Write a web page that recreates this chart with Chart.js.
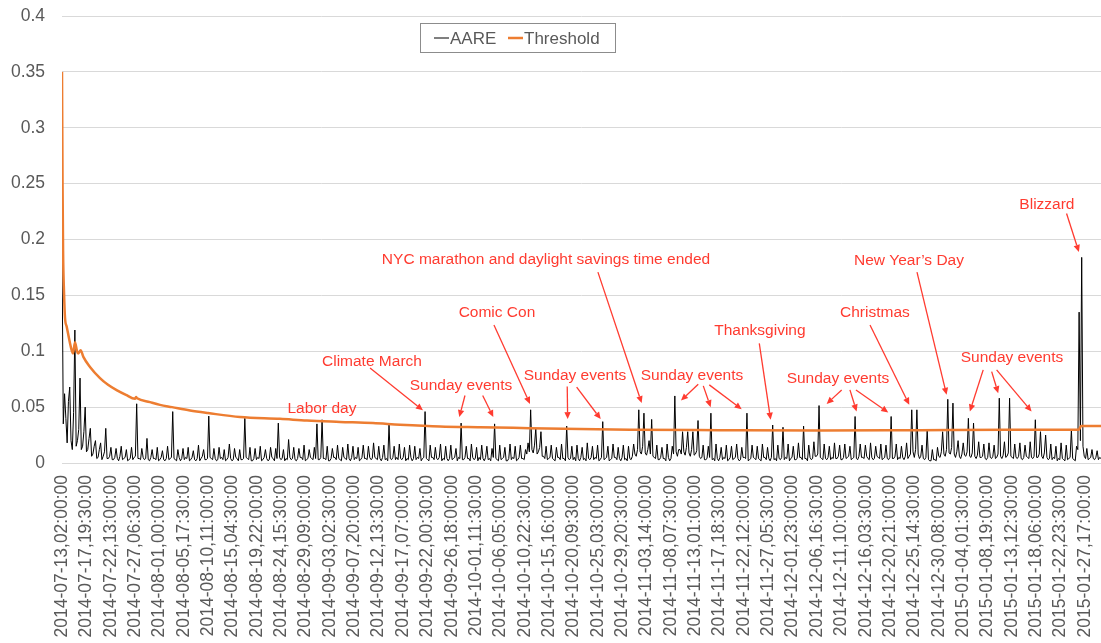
<!DOCTYPE html>
<html>
<head>
<meta charset="utf-8">
<script src="https://cdn.jsdelivr.net/npm/chart.js@4.4.1/dist/chart.umd.min.js"></script>
<style>
  html, body { margin: 0; padding: 0; background: #fff; }
  #wrap { width: 1101px; height: 643px; }
</style>
</head>
<body>
<div id="wrap"><canvas id="aareChart" width="1101" height="643"></canvas></div>
<script>
// x unit = one 30 min interval since 2014-07-13 02:00
const STEP = 12;          // one AARE sample per 6 h
const TICK_EVERY = 227;   // label every 227 intervals
const X_MAX = 9684;

const tickLabels = [
  '2014-07-13,02:00:00', '2014-07-17,19:30:00', '2014-07-22,13:00:00', '2014-07-27,06:30:00',
  '2014-08-01,00:00:00', '2014-08-05,17:30:00', '2014-08-10,11:00:00', '2014-08-15,04:30:00',
  '2014-08-19,22:00:00', '2014-08-24,15:30:00', '2014-08-29,09:00:00', '2014-09-03,02:30:00',
  '2014-09-07,20:00:00', '2014-09-12,13:30:00', '2014-09-17,07:00:00', '2014-09-22,00:30:00',
  '2014-09-26,18:00:00', '2014-10-01,11:30:00', '2014-10-06,05:00:00', '2014-10-10,22:30:00',
  '2014-10-15,16:00:00', '2014-10-20,09:30:00', '2014-10-25,03:00:00', '2014-10-29,20:30:00',
  '2014-11-03,14:00:00', '2014-11-08,07:30:00', '2014-11-13,01:00:00', '2014-11-17,18:30:00',
  '2014-11-22,12:00:00', '2014-11-27,05:30:00', '2014-12-01,23:00:00', '2014-12-06,16:30:00',
  '2014-12-11,10:00:00', '2014-12-16,03:30:00', '2014-12-20,21:00:00', '2014-12-25,14:30:00',
  '2014-12-30,08:00:00', '2015-01-04,01:30:00', '2015-01-08,19:00:00', '2015-01-13,12:30:00',
  '2015-01-18,06:00:00', '2015-01-22,23:30:00', '2015-01-27,17:00:00'
];

// 5 days per row
const aareValues = [
  0.19, 0.035, 0.062, 0.04, 0.018, 0.055, 0.068, 0.02, 0.012, 0.045, 0.119, 0.015, 0.02, 0.03, 0.076, 0.012, 0.015, 0.028, 0.05, 0.01,
  0.012, 0.022, 0.031, 0.006, 0.008, 0.015, 0.02, 0.004, 0.005, 0.012, 0.018, 0.003, 0.006, 0.01, 0.031, 0.004, 0.004, 0.006, 0.014, 0.003,
  0.003, 0.005, 0.013, 0.004, 0.002, 0.006, 0.015, 0.003, 0.004, 0.005, 0.012, 0.002, 0.003, 0.004, 0.014, 0.003, 0.005, 0.006, 0.053, 0.004,
  0.004, 0.003, 0.013, 0.005, 0.003, 0.004, 0.022, 0.003, 0.002, 0.005, 0.012, 0.004, 0.004, 0.003, 0.014, 0.002, 0.003, 0.005, 0.011, 0.003,
  0.002, 0.004, 0.015, 0.003, 0.004, 0.005, 0.046, 0.004, 0.003, 0.002, 0.012, 0.005, 0.002, 0.004, 0.013, 0.003, 0.005, 0.004, 0.014, 0.002,
  0.003, 0.005, 0.011, 0.003, 0.002, 0.004, 0.016, 0.002, 0.004, 0.006, 0.012, 0.003, 0.003, 0.004, 0.042, 0.005, 0.004, 0.003, 0.013, 0.004,
  0.002, 0.003, 0.014, 0.004, 0.005, 0.003, 0.012, 0.002, 0.003, 0.005, 0.017, 0.004, 0.002, 0.003, 0.013, 0.005, 0.004, 0.002, 0.012, 0.003,
  0.003, 0.004, 0.04, 0.005, 0.004, 0.003, 0.014, 0.002, 0.002, 0.004, 0.013, 0.003, 0.005, 0.004, 0.015, 0.002, 0.003, 0.005, 0.012, 0.004,
  0.002, 0.003, 0.014, 0.005, 0.004, 0.002, 0.013, 0.004, 0.0357, 0.005, 0.003, 0.004, 0.012, 0.002, 0.004, 0.003, 0.021, 0.005, 0.003, 0.004,
  0.014, 0.003, 0.002, 0.004, 0.013, 0.005, 0.005, 0.003, 0.016, 0.002, 0.003, 0.004, 0.012, 0.005, 0.004, 0.003, 0.014, 0.004, 0.035, 0.003,
  0.003, 0.005, 0.0387, 0.004, 0.004, 0.003, 0.015, 0.002, 0.002, 0.004, 0.013, 0.005, 0.005, 0.003, 0.016, 0.004, 0.003, 0.002, 0.014, 0.005,
  0.004, 0.003, 0.017, 0.004, 0.002, 0.005, 0.015, 0.003, 0.005, 0.004, 0.014, 0.002, 0.003, 0.005, 0.016, 0.004, 0.004, 0.003, 0.015, 0.005,
  0.003, 0.004, 0.018, 0.005, 0.004, 0.003, 0.015, 0.004, 0.002, 0.005, 0.016, 0.003, 0.004, 0.002, 0.034, 0.004, 0.003, 0.005, 0.015, 0.003,
  0.005, 0.003, 0.017, 0.004, 0.003, 0.005, 0.014, 0.002, 0.004, 0.003, 0.016, 0.005, 0.002, 0.004, 0.015, 0.003, 0.005, 0.004, 0.013, 0.002,
  0.004, 0.005, 0.046, 0.004, 0.003, 0.002, 0.016, 0.005, 0.005, 0.003, 0.014, 0.004, 0.003, 0.005, 0.017, 0.002, 0.004, 0.003, 0.015, 0.004,
  0.002, 0.004, 0.016, 0.003, 0.004, 0.005, 0.013, 0.002, 0.005, 0.004, 0.0357, 0.003, 0.003, 0.005, 0.015, 0.004, 0.004, 0.002, 0.017, 0.005,
  0.003, 0.004, 0.014, 0.002, 0.005, 0.003, 0.016, 0.004, 0.002, 0.005, 0.015, 0.003, 0.004, 0.002, 0.013, 0.005, 0.035, 0.004, 0.003, 0.002,
  0.016, 0.003, 0.004, 0.005, 0.014, 0.002, 0.002, 0.004, 0.017, 0.003, 0.005, 0.004, 0.015, 0.002, 0.003, 0.005, 0.016, 0.004, 0.004, 0.003,
  0.012, 0.008, 0.018, 0.01, 0.0476, 0.012, 0.009, 0.016, 0.031, 0.008, 0.01, 0.014, 0.028, 0.006, 0.006, 0.004, 0.015, 0.003, 0.004, 0.005,
  0.016, 0.004, 0.003, 0.002, 0.014, 0.005, 0.005, 0.003, 0.017, 0.004, 0.004, 0.002, 0.033, 0.005, 0.003, 0.004, 0.015, 0.003, 0.005, 0.002,
  0.016, 0.004, 0.002, 0.005, 0.014, 0.003, 0.004, 0.002, 0.018, 0.004, 0.003, 0.005, 0.015, 0.003, 0.005, 0.004, 0.016, 0.002, 0.003, 0.005,
  0.037, 0.003, 0.004, 0.005, 0.015, 0.002, 0.003, 0.004, 0.017, 0.005, 0.005, 0.003, 0.014, 0.004, 0.002, 0.005, 0.016, 0.003, 0.004, 0.002,
  0.015, 0.004, 0.003, 0.006, 0.017, 0.008, 0.006, 0.012, 0.0476, 0.01, 0.008, 0.015, 0.0446, 0.009, 0.007, 0.012, 0.02, 0.008, 0.039, 0.006,
  0.005, 0.004, 0.016, 0.003, 0.003, 0.005, 0.014, 0.004, 0.004, 0.002, 0.017, 0.005, 0.002, 0.004, 0.015, 0.008, 0.06, 0.01, 0.006, 0.012,
  0.012, 0.008, 0.028, 0.01, 0.007, 0.014, 0.028, 0.009, 0.006, 0.012, 0.028, 0.007, 0.008, 0.011, 0.038, 0.006, 0.004, 0.005, 0.016, 0.003,
  0.003, 0.004, 0.015, 0.005, 0.0446, 0.003, 0.004, 0.002, 0.017, 0.004, 0.002, 0.005, 0.014, 0.003, 0.005, 0.004, 0.016, 0.002, 0.003, 0.005,
  0.015, 0.003, 0.004, 0.005, 0.017, 0.004, 0.002, 0.003, 0.014, 0.005, 0.005, 0.004, 0.0446, 0.002, 0.003, 0.004, 0.016, 0.005, 0.004, 0.003,
  0.015, 0.004, 0.003, 0.002, 0.017, 0.005, 0.005, 0.003, 0.014, 0.004, 0.002, 0.005, 0.034, 0.003, 0.004, 0.002, 0.016, 0.004, 0.003, 0.005,
  0.032, 0.003, 0.005, 0.004, 0.017, 0.002, 0.004, 0.005, 0.015, 0.003, 0.003, 0.004, 0.018, 0.005, 0.005, 0.003, 0.033, 0.004, 0.004, 0.002,
  0.016, 0.005, 0.003, 0.004, 0.019, 0.006, 0.006, 0.008, 0.0514, 0.005, 0.004, 0.003, 0.017, 0.004, 0.003, 0.005, 0.015, 0.003, 0.005, 0.004,
  0.018, 0.004, 0.004, 0.006, 0.016, 0.003, 0.003, 0.005, 0.017, 0.004, 0.005, 0.006, 0.015, 0.003, 0.004, 0.005, 0.0416, 0.004, 0.003, 0.006,
  0.017, 0.005, 0.005, 0.004, 0.016, 0.006, 0.004, 0.003, 0.018, 0.005, 0.003, 0.004, 0.015, 0.006, 0.005, 0.004, 0.017, 0.003, 0.004, 0.005,
  0.016, 0.004, 0.003, 0.005, 0.0416, 0.004, 0.004, 0.006, 0.017, 0.003, 0.005, 0.004, 0.015, 0.005, 0.003, 0.006, 0.018, 0.004, 0.006, 0.008,
  0.0476, 0.01, 0.005, 0.012, 0.0476, 0.008, 0.004, 0.006, 0.016, 0.004, 0.003, 0.005, 0.0297, 0.003, 0.002, 0.002, 0.012, 0.003, 0.003, 0.002,
  0.014, 0.006, 0.005, 0.01, 0.028, 0.008, 0.006, 0.012, 0.057, 0.009, 0.008, 0.014, 0.0536, 0.008, 0.005, 0.01, 0.02, 0.006, 0.004, 0.008,
  0.018, 0.007, 0.006, 0.01, 0.04, 0.006, 0.005, 0.009, 0.0357, 0.006, 0.004, 0.007, 0.019, 0.005, 0.005, 0.006, 0.017, 0.004, 0.003, 0.005,
  0.018, 0.005, 0.004, 0.006, 0.016, 0.004, 0.005, 0.008, 0.058, 0.006, 0.004, 0.007, 0.019, 0.005, 0.006, 0.009, 0.058, 0.006, 0.005, 0.004,
  0.017, 0.005, 0.004, 0.006, 0.018, 0.004, 0.003, 0.005, 0.016, 0.006, 0.005, 0.004, 0.019, 0.005, 0.004, 0.006, 0.0387, 0.005, 0.005, 0.008,
  0.028, 0.006, 0.004, 0.009, 0.025, 0.005, 0.003, 0.004, 0.017, 0.003, 0.005, 0.004, 0.015, 0.002, 0.004, 0.003, 0.018, 0.004, 0.003, 0.002,
  0.016, 0.003, 0.004, 0.005, 0.0297, 0.004, 0.003, 0.002, 0.015, 0.012, 0.135, 0.02, 0.184, 0.015, 0.006, 0.004, 0.013, 0.003, 0.004, 0.005,
  0.012, 0.004, 0.003, 0.005, 0.011, 0.003, 0.005, 0.004
];

const thresholdX = [0, 5, 10, 19, 28, 44, 75, 90, 103, 121, 140, 152, 174, 199, 261, 354, 429, 513, 596,
  680, 690, 700, 820, 913, 1025, 1193, 1361, 1659, 2032, 2283, 2591, 2898, 3150, 3523, 3896, 4362,
  4828, 5294, 6132, 7064, 7996, 8835, 9478, 9497, 9684];
const thresholdY = [0.35, 0.25, 0.19, 0.152, 0.13, 0.122, 0.107, 0.101, 0.098, 0.108, 0.1, 0.098, 0.101, 0.095, 0.086, 0.076, 0.07, 0.065, 0.061,
  0.0575, 0.059, 0.058, 0.0545, 0.052, 0.05, 0.047, 0.0447, 0.0411, 0.0395, 0.038, 0.0368, 0.0357, 0.0343, 0.0327, 0.032, 0.0312,
  0.0304, 0.0298, 0.0294, 0.0291, 0.0294, 0.0297, 0.0298, 0.033, 0.033];

const RED = '#ff3b30';
const notes = [
  { text: 'Labor day', x: 2423, y: 0.0485, arrows: [] },
  { text: 'Climate March', x: 2889, y: 0.0909, arrows: [[2871, 0.0851, 3364, 0.0471]] },
  { text: 'Sunday events', x: 3719, y: 0.0695, arrows: [[3756, 0.0604, 3703, 0.0411], [3921, 0.0604, 4020, 0.0411]] },
  { text: 'Comic Con', x: 4054, y: 0.1342, arrows: [[4026, 0.1235, 4362, 0.0529]] },
  { text: 'Sunday events', x: 4781, y: 0.078, arrows: [[4709, 0.0684, 4713, 0.0393], [4797, 0.0679, 5021, 0.0393]] },
  { text: 'NYC marathon and daylight savings time ended', x: 4511, y: 0.1815, arrows: [[4995, 0.1708, 5403, 0.0536]] },
  { text: 'Sunday events', x: 5872, y: 0.078, arrows: [[5930, 0.0705, 5769, 0.0559], [5977, 0.069, 6046, 0.05], [6033, 0.0699, 6335, 0.0482]] },
  { text: 'Thanksgiving', x: 6505, y: 0.1181, arrows: [[6499, 0.1071, 6605, 0.0387]] },
  { text: 'Sunday events', x: 7232, y: 0.0757, arrows: [[7267, 0.0654, 7127, 0.0529], [7344, 0.0654, 7406, 0.0461], [7400, 0.0654, 7701, 0.0452]] },
  { text: 'Christmas', x: 7577, y: 0.1342, arrows: [[7531, 0.1235, 7897, 0.0521]] },
  { text: 'New Year\u2019s Day', x: 7894, y: 0.1806, arrows: [[7969, 0.1708, 8245, 0.061]] },
  { text: 'Sunday events', x: 8854, y: 0.094, arrows: [[8586, 0.0833, 8462, 0.0461], [8665, 0.0818, 8726, 0.0625], [8711, 0.0833, 9037, 0.0461]] },
  { text: 'Blizzard', x: 9180, y: 0.2315, arrows: [[9363, 0.2232, 9478, 0.1889]] }
];

const GRAY_TEXT = '#595959';
const TICK_FONT = { family: '"Liberation Sans", Arial, sans-serif', size: 17.5 };

function drawArrow(ctx, x1, y1, x2, y2) {
  const ang = Math.atan2(y2 - y1, x2 - x1);
  const head = 7, half = 3.2;
  const bx = x2 - head * Math.cos(ang), by = y2 - head * Math.sin(ang);
  ctx.beginPath();
  ctx.moveTo(x1, y1);
  ctx.lineTo(bx, by);
  ctx.stroke();
  ctx.beginPath();
  ctx.moveTo(x2, y2);
  ctx.lineTo(bx + half * Math.sin(ang), by - half * Math.cos(ang));
  ctx.lineTo(bx - half * Math.sin(ang), by + half * Math.cos(ang));
  ctx.closePath();
  ctx.fill();
}

const notesPlugin = {
  id: 'notes',
  afterDatasetsDraw(chart) {
    const { ctx } = chart;
    const xs = chart.scales.x, ys = chart.scales.y;
    ctx.save();
    ctx.fillStyle = RED;
    ctx.strokeStyle = RED;
    ctx.lineWidth = 1.3;
    ctx.font = '15.5px "Liberation Sans", Arial, sans-serif';
    ctx.textAlign = 'center';
    ctx.textBaseline = 'middle';
    notes.forEach(n => {
      ctx.fillText(n.text, xs.getPixelForValue(n.x), ys.getPixelForValue(n.y));
      n.arrows.forEach(a => drawArrow(ctx,
        xs.getPixelForValue(a[0]), ys.getPixelForValue(a[1]),
        xs.getPixelForValue(a[2]), ys.getPixelForValue(a[3])));
    });

    // legend box, sitting inside the plot like Excel's
    const lx = 420.5, ly = 23.5, lw = 195, lh = 29;
    ctx.fillStyle = '#fff';
    ctx.fillRect(lx, ly, lw, lh);
    ctx.strokeStyle = '#8c8c8c';
    ctx.lineWidth = 1;
    ctx.strokeRect(lx, ly, lw, lh);
    const midY = ly + lh / 2;
    chart.data.datasets.forEach((ds, i) => {
      const sx = [434, 508][i];
      ctx.strokeStyle = ds.borderColor;
      ctx.lineWidth = ds.borderWidth;
      ctx.beginPath();
      ctx.moveTo(sx, midY);
      ctx.lineTo(sx + 15, midY);
      ctx.stroke();
      ctx.fillStyle = GRAY_TEXT;
      ctx.font = '17px "Liberation Sans", Arial, sans-serif';
      ctx.textAlign = 'left';
      ctx.fillText(ds.label, sx + 16, midY + 1);
    });
    ctx.restore();
  }
};

new Chart(document.getElementById('aareChart'), {
  type: 'line',
  data: {
    datasets: [
      {
        label: 'AARE',
        data: aareValues.map((v, i) => ({ x: i * STEP, y: v })),
        borderColor: '#000000',
        borderWidth: 1,
        pointRadius: 0,
        tension: 0,
        order: 1
      },
      {
        label: 'Threshold',
        data: thresholdX.map((x, i) => ({ x: x, y: thresholdY[i] })),
        borderColor: '#ed7d31',
        borderWidth: 2.5,
        pointRadius: 0,
        cubicInterpolationMode: 'monotone',
        order: 0
      }
    ]
  },
  options: {
    responsive: false,
    animation: false,
    devicePixelRatio: 1,
    layout: { padding: { top: 16, right: 0, left: 0, bottom: 0 } },
    plugins: {
      legend: { display: false },
      tooltip: { enabled: false }
    },
    scales: {
      x: {
        type: 'linear',
        min: 0,
        max: X_MAX,
        grid: { display: false },
        border: { display: false },
        afterBuildTicks: scale => {
          scale.ticks = tickLabels.map((_, k) => ({ value: k * TICK_EVERY }));
        },
        afterFit: scale => {
          scale.height = 180;
          scale.paddingLeft = 0;
          scale.paddingRight = 0;
        },
        ticks: {
          autoSkip: false,
          maxRotation: 90,
          minRotation: 90,
          padding: 4,
          color: GRAY_TEXT,
          font: TICK_FONT,
          callback: (value, index) => tickLabels[index]
        }
      },
      y: {
        min: 0,
        max: 0.4,
        grid: { color: '#d9d9d9', drawTicks: false },
        border: { display: false },
        afterFit: scale => {
          scale.width = 62;
          scale.paddingTop = 0;
          scale.paddingBottom = 0;
        },
        ticks: {
          stepSize: 0.05,
          padding: 17,
          color: GRAY_TEXT,
          font: TICK_FONT,
          callback: v => String(Math.round(v * 100) / 100)
        }
      }
    }
  },
  plugins: [notesPlugin]
});
</script>
</body>
</html>
